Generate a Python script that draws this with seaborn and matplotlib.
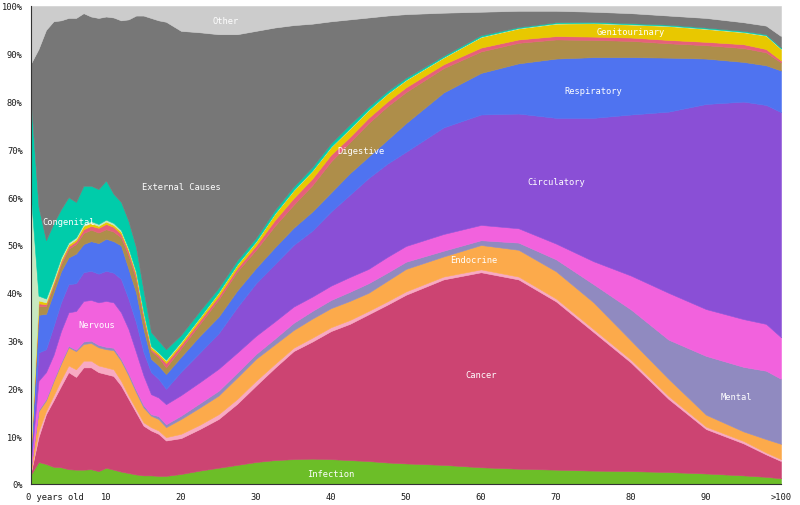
#!/usr/bin/env python3
import numpy as np
import pandas as pd
from matplotlib import pyplot as plt
import seaborn as sns

# share of deaths (%) by cause, per age
ages = [0, 1, 2, 3, 4, 5, 6, 7, 8, 9, 10, 11, 12, 13, 14, 15, 16, 17, 18, 20,
        22.5, 25, 27.5, 30, 32.5, 35, 37.5, 40, 42.5, 45, 47.5, 50,
        55, 60, 65, 70, 75, 80, 85, 90, 95, 98, 100]

infection = [2.0, 4.6, 4.2, 3.6, 3.5, 3.1, 3.0, 3.0, 3.1, 2.7, 3.4, 3.0, 2.6, 2.3, 2.0, 1.8, 1.8, 1.7, 1.7, 2.1,
             2.8, 3.4, 4.0, 4.6, 5.0, 5.2, 5.3, 5.2, 5.0, 4.8, 4.5, 4.3,
             4.0, 3.5, 3.2, 3.0, 2.8, 2.7, 2.5, 2.2, 1.8, 1.5, 1.2]
cancer = [0.5, 5.2, 10.4, 13.9, 17.0, 20.3, 19.4, 21.4, 21.3, 20.7, 19.6, 19.6, 18.0, 15.5, 13.0, 10.4, 9.4, 8.8, 7.4, 7.5,
          8.7, 10.2, 12.8, 16.0, 19.3, 22.6, 24.5, 26.8, 28.5, 30.7, 33.0, 35.3,
          38.8, 40.8, 39.6, 35.2, 29.0, 22.7, 15.3, 9.3, 6.7, 4.7, 3.6]
blood = [0.3, 1.2, 0.7, 1.0, 1.3, 1.4, 1.6, 1.4, 1.4, 1.4, 1.4, 1.4, 1.0, 0.7, 0.7, 0.7, 0.7, 0.7, 0.7, 0.9,
         0.9, 1.0, 1.0, 1.0, 0.8, 0.7, 0.8, 0.8, 0.8, 0.7, 0.7, 0.7,
         0.6, 0.6, 0.6, 0.6, 0.6, 0.6, 0.6, 0.5, 0.5, 0.4, 0.4]
endocrine = [0.8, 4.2, 2.2, 3.0, 3.4, 3.8, 3.8, 3.5, 3.7, 3.8, 3.8, 4.0, 4.2, 4.2, 3.5, 3.1, 2.4, 2.4, 2.1, 3.1,
             3.6, 3.9, 4.5, 4.6, 4.1, 3.7, 4.0, 4.0, 4.0, 3.8, 4.3, 4.7,
             4.2, 5.1, 5.6, 5.7, 5.6, 4.0, 3.6, 2.5, 2.0, 2.8, 3.2]
mental = [0.1, 0.3, 0.3, 0.3, 0.3, 0.3, 0.3, 0.5, 0.5, 0.5, 0.5, 0.5, 0.4, 0.5, 0.5, 0.5, 0.3, 0.6, 0.6, 0.7,
          0.9, 1.0, 1.0, 1.0, 1.2, 1.5, 1.6, 1.7, 1.9, 2.0, 1.7, 1.5,
          1.2, 1.0, 1.5, 2.5, 3.8, 6.5, 8.2, 12.3, 13.5, 14.3, 13.6]
nervous = [1.1, 6.1, 5.6, 5.2, 6.5, 7.0, 8.1, 8.5, 8.5, 8.9, 9.6, 9.5, 9.7, 9.2, 7.9, 6.2, 4.2, 3.9, 4.2, 4.3,
           4.4, 4.6, 4.2, 3.8, 3.6, 3.4, 3.0, 3.0, 3.1, 3.0, 3.3, 3.3,
           3.5, 3.2, 3.0, 3.3, 4.8, 7.1, 9.8, 9.8, 10.0, 9.8, 8.7]
circulatory = [1.2, 5.9, 4.8, 6.0, 6.0, 5.9, 5.8, 6.0, 6.1, 6.0, 6.3, 6.2, 7.0, 6.3, 6.2, 4.9, 4.6, 3.9, 3.2, 4.9,
               6.2, 7.4, 9.5, 11.0, 12.0, 12.9, 13.8, 15.5, 17.2, 19.0, 19.5, 19.7,
               22.3, 23.1, 24.0, 26.3, 30.0, 33.7, 37.9, 42.9, 45.5, 45.8, 47.1]
respiratory = [1.2, 7.9, 7.4, 7.0, 6.5, 5.6, 6.2, 5.9, 6.2, 6.4, 6.7, 6.6, 7.0, 6.3, 6.3, 4.8, 2.8, 2.8, 3.1, 3.1,
               3.5, 3.5, 3.5, 3.2, 3.5, 3.6, 4.0, 4.0, 4.5, 4.5, 5.0, 6.0,
               7.3, 8.7, 10.5, 12.4, 12.7, 12.0, 11.3, 9.5, 8.3, 8.3, 8.7]
digestive = [0.5, 1.8, 1.6, 1.5, 1.5, 1.8, 2.0, 2.3, 2.4, 2.2, 2.0, 2.0, 1.7, 2.8, 2.8, 2.1, 1.7, 1.7, 1.4, 1.8,
             2.5, 3.6, 4.0, 3.8, 4.5, 4.8, 5.5, 6.5, 6.5, 7.0, 7.0, 6.5,
             5.1, 4.5, 4.3, 4.0, 3.6, 3.4, 3.0, 2.8, 2.9, 2.7, 1.7]
skin = [0.3, 0.6, 0.4, 0.4, 0.5, 0.5, 0.6, 0.8, 0.8, 1.0, 1.1, 1.0, 0.7, 0.8, 0.7, 0.7, 0.3, 0.5, 0.9, 0.7,
        0.7, 0.7, 0.7, 0.9, 1.2, 1.4, 1.4, 1.4, 1.1, 1.1, 1.0, 1.0,
        0.8, 0.8, 0.7, 0.7, 0.7, 0.7, 0.7, 0.7, 0.8, 0.7, 0.4]
genitourinary = [0.3, 0.6, 0.4, 0.4, 0.4, 0.4, 0.4, 0.7, 0.6, 0.4, 0.5, 0.4, 0.5, 0.4, 0.5, 0.6, 0.5, 0.4, 0.5, 0.5,
                 0.6, 0.7, 0.7, 0.8, 1.3, 1.6, 1.6, 1.6, 1.7, 1.6, 1.6, 1.5,
                 1.4, 2.2, 2.3, 2.6, 2.8, 2.7, 2.9, 2.7, 2.5, 2.8, 2.4]
perinatal = [51.7, 1.0, 0.8, 0.6, 0.5, 0.4, 0.4, 0.4, 0.4, 0.4, 0.4, 0.4, 0.3, 0.3, 0.3, 0.2, 0.2, 0.1, 0.2, 0.2,
             0.1, 0.1, 0.1, 0.1, 0.1, 0.1, 0.1, 0.1, 0.1, 0.1, 0.1, 0.1,
             0.1, 0.1, 0.1, 0.1, 0.1, 0.1, 0.1, 0.1, 0.1, 0.1, 0.1]
congenital = [20.0, 18.6, 12.2, 11.6, 10.1, 9.5, 7.4, 8.0, 7.4, 7.3, 8.2, 6.1, 5.9, 5.7, 5.1, 4.5, 2.9, 2.5, 2.2, 1.4,
              1.3, 0.9, 0.8, 0.7, 0.7, 0.7, 0.7, 0.7, 0.8, 0.6, 0.5, 0.4,
              0.3, 0.3, 0.2, 0.2, 0.2, 0.2, 0.2, 0.2, 0.2, 0.2, 0.2]
external = [8.0, 33.0, 44.0, 42.3, 39.5, 37.5, 38.5, 36.1, 35.4, 35.8, 34.3, 36.9, 38.0, 42.2, 48.5, 57.5, 65.7, 67.0, 68.5, 63.6,
            58.3, 53.1, 47.3, 43.3, 38.2, 33.8, 30.0, 25.5, 22.0, 18.7, 15.8, 13.3,
            9.0, 4.9, 3.4, 2.4, 2.1, 2.1, 1.9, 2.0, 1.8, 1.8, 2.4]
other = [12.0, 9.0, 5.0, 3.2, 3.0, 2.5, 2.5, 1.5, 2.2, 2.5, 2.2, 2.4, 3.0, 2.8, 2.0, 2.0, 2.5, 3.0, 3.3, 5.2,
         5.5, 5.9, 5.9, 5.2, 4.5, 4.0, 3.7, 3.2, 2.8, 2.4, 2.0, 1.7,
         1.4, 1.2, 1.0, 1.0, 1.2, 1.5, 2.0, 2.5, 3.4, 4.1, 6.3]

causes = ['Infection', 'Cancer', 'Blood', 'Endocrine', 'Mental', 'Nervous', 'Circulatory',
          'Respiratory', 'Digestive', 'Skin', 'Genitourinary', 'Perinatal', 'Congenital',
          'External Causes', 'Other']
colors = ['#6cbe28', '#cc4472', '#f8aac3', '#fcaa4b', '#908ac0', '#f262dd', '#8a4fd6',
          '#4f73f0', '#ae8e4a', '#e6607a', '#e8c800', '#c8e8c0', '#00ccaa',
          '#777777', '#cccccc']

# labels drawn on the areas: (text, age, percent)
labels = [('Other', 26, 96.9), ('External Causes', 20, 62.3), ('Congenital', 5, 55.0),
          ('Nervous', 8.8, 33.3), ('Cancer', 60, 23.0), ('Infection', 40, 2.1),
          ('Endocrine', 59, 46.9), ('Circulatory', 70, 63.2), ('Respiratory', 75, 82.4),
          ('Genitourinary', 80, 94.6), ('Digestive', 44, 69.7), ('Mental', 94, 18.4)]

df = pd.DataFrame({'age': ages, 'Infection': infection, 'Cancer': cancer, 'Blood': blood,
                   'Endocrine': endocrine, 'Mental': mental, 'Nervous': nervous,
                   'Circulatory': circulatory, 'Respiratory': respiratory,
                   'Digestive': digestive, 'Skin': skin, 'Genitourinary': genitourinary,
                   'Perinatal': perinatal, 'Congenital': congenital,
                   'External Causes': external, 'Other': other})
# normalise each age to 100%
tot = df[causes].sum(axis=1)
for c in causes:
    df[c] = df[c] / tot * 100

sns.set_style('white')
plt.rcParams['font.family'] = ['DejaVu Sans Mono']
FS = 6.3
TXT = '#1a1a1a'

fig = plt.figure(figsize=(8, 5.06), dpi=100)
ax = fig.add_axes([31 / 800, 21 / 506, 750 / 800, 478 / 506])
ax.stackplot(df['age'], *[df[c] for c in causes], colors=colors,
             edgecolor='face', linewidth=0.4)

for txt, x, y in labels:
    ax.text(x, y, txt, color='white', fontsize=FS, ha='center', va='center')

ax.set_xlim(0, 100)
ax.set_ylim(0, 100)
xt = list(range(0, 101, 10))
ax.set_xticks(xt)
ax.set_xticklabels([''] + [str(v) for v in xt[1:-1]] + ['>100'], fontsize=FS, color=TXT)
# first tick label starts at the tick instead of being centred on it
ax.annotate('0 years old', xy=(0, 0), xycoords='data', xytext=(-3.6, -6),
            textcoords='offset points', ha='left', va='top', fontsize=FS, color=TXT)
yt = list(range(0, 101, 10))
ax.set_yticks(yt)
ax.set_yticklabels([f'{v}%' for v in yt], fontsize=FS, color=TXT)
ax.tick_params(axis='both', direction='out', length=4, width=0.8, color='#333333', pad=2)
sns.despine(ax=ax)
for s in ['left', 'bottom']:
    ax.spines[s].set_color('#333333')
    ax.spines[s].set_linewidth(0.8)

fig.savefig('out.png', dpi=100)
